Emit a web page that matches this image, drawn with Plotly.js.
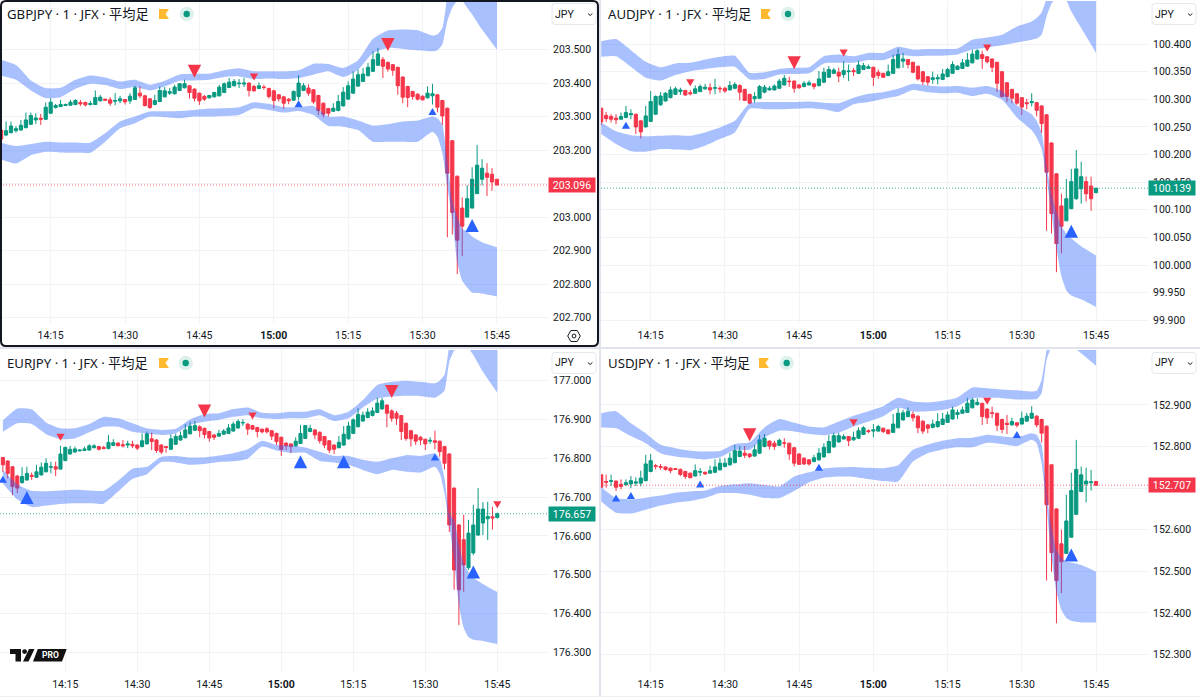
<!DOCTYPE html>
<html><head><meta charset="utf-8">
<script src="https://cdn.plot.ly/plotly-3.0.1.min.js"></script>
<style>html,body{margin:0;padding:0;background:#fff}#c{width:1200px;height:697px}</style></head>
<body><div id="c"></div>
<script>
// ---- time axis (minutes since midnight) ----
const tickMinutes=[855,870,885,900,915,930,945];
const tickLabels=['14:15','14:30','14:45','<b>15:00</b>','15:15','15:30','15:45'];
const bandMinutes=[845,848,851,854,857,860,863,866,869,872,875,878,881,884,887,890,893,896,899,902,905,908,911,914,917,920,923,926,929,932,933,934,935,936,937,938,939,940,942,945];
const eurBandMinutes=[842,845,848,851,854,857,860,863,866,869,872,875,878,881,884,887,890,893,896,899,902,905,908,911,914,917,920,923,926,929,932,933,934,935,936,937,938,939,940,942,945];

// ---- GBPJPY ----
const gbpOpen=[203.26,203.245,203.252,203.258,203.26,203.267,203.277,203.29,203.295,203.292,203.31,203.327,203.33,203.333,203.334,203.336,203.342,203.342,203.336,203.336,203.347,203.352,203.35,203.346,203.347,203.351,203.347,203.351,203.37,203.362,203.353,203.336,203.345,203.359,203.37,203.368,203.378,203.386,203.392,203.382,203.37,203.36,203.356,203.359,203.362,203.372,203.387,203.392,203.398,203.397,203.4,203.39,203.384,203.388,203.384,203.377,203.365,203.359,203.352,203.349,203.36,203.378,203.385,203.38,203.363,203.34,203.324,203.316,203.318,203.332,203.352,203.37,203.391,203.405,203.422,203.435,203.453,203.47,203.462,203.455,203.447,203.418,203.39,203.375,203.367,203.361,203.356,203.362,203.365,203.348,203.325,203.228,203.122,203.027,203.0,203.027,203.07,203.113,203.131,203.128,203.113];
const gbpHigh=[203.26,203.285,203.285,203.272,203.29,203.312,203.312,203.31,203.308,203.342,203.355,203.338,203.35,203.339,203.35,203.352,203.35,203.345,203.347,203.378,203.365,203.353,203.358,203.37,203.362,203.352,203.37,203.392,203.39,203.365,203.355,203.365,203.39,203.388,203.385,203.395,203.4,203.41,203.394,203.384,203.372,203.365,203.365,203.374,203.395,203.402,203.415,203.412,203.412,203.415,203.402,203.395,203.402,203.395,203.386,203.38,203.367,203.36,203.355,203.378,203.424,203.4,203.396,203.382,203.365,203.342,203.326,203.34,203.365,203.388,203.405,203.435,203.44,203.445,203.46,203.495,203.505,203.478,203.464,203.457,203.449,203.42,203.392,203.377,203.369,203.363,203.39,203.398,203.367,203.35,203.327,203.23,203.124,203.059,203.095,203.149,203.215,203.173,203.161,203.146,203.114];
const gbpLow=[203.233,203.242,203.25,203.252,203.258,203.265,203.275,203.278,203.275,203.29,203.308,203.324,203.328,203.332,203.332,203.334,203.332,203.33,203.333,203.335,203.346,203.348,203.332,203.334,203.34,203.336,203.338,203.35,203.355,203.33,203.323,203.334,203.343,203.357,203.365,203.366,203.376,203.384,203.354,203.345,203.335,203.347,203.354,203.357,203.36,203.37,203.385,203.39,203.385,203.388,203.36,203.374,203.382,203.38,203.354,203.325,203.345,203.323,203.337,203.347,203.35,203.376,203.362,203.338,203.305,203.298,203.3,203.314,203.316,203.33,203.35,203.368,203.389,203.403,203.42,203.433,203.451,203.415,203.434,203.422,203.365,203.34,203.328,203.35,203.348,203.348,203.354,203.336,203.313,203.275,202.94,202.948,202.83,202.884,202.999,203.026,203.069,203.095,203.063,203.078,203.095];
const gbpClose=[203.233,203.258,203.272,203.264,203.274,203.29,203.303,203.296,203.292,203.328,203.343,203.333,203.336,203.336,203.343,203.348,203.338,203.335,203.339,203.357,203.358,203.349,203.34,203.348,203.353,203.344,203.361,203.386,203.362,203.333,203.327,203.348,203.378,203.377,203.374,203.388,203.398,203.398,203.372,203.355,203.347,203.352,203.363,203.372,203.388,203.398,203.403,203.405,203.4,203.4,203.378,203.377,203.392,203.387,203.36,203.348,203.353,203.34,203.347,203.375,203.4,203.392,203.37,203.344,203.318,203.307,203.31,203.325,203.345,203.373,203.392,203.412,203.425,203.427,203.447,203.47,203.487,203.45,203.442,203.438,203.392,203.358,203.357,203.36,203.352,203.35,203.37,203.368,203.328,203.302,203.131,203.014,202.931,202.973,203.055,203.113,203.155,203.146,203.119,203.105,203.096];
const gbpUpperTop=[203.47,203.454,203.408,203.385,203.386,203.41,203.423,203.417,203.405,203.41,203.395,203.407,203.426,203.428,203.428,203.438,203.444,203.435,203.435,203.435,203.438,203.458,203.457,203.445,203.468,203.532,203.557,203.56,203.558,203.542,203.545,203.565,203.66,203.75,203.83,203.9,203.95,203.98,204.0,204.0];
const gbpUpperBottom=[203.422,203.41,203.378,203.355,203.358,203.383,203.398,203.394,203.382,203.388,203.378,203.39,203.407,203.408,203.41,203.418,203.42,203.412,203.414,203.412,203.415,203.425,203.435,203.418,203.44,203.49,203.505,203.502,203.498,203.495,203.498,203.515,203.585,203.625,203.645,203.645,203.625,203.605,203.56,203.5];
const gbpLowerTop=[203.222,203.212,203.218,203.225,203.223,203.223,203.222,203.25,203.285,203.3,203.315,203.316,203.317,203.32,203.324,203.325,203.328,203.343,203.338,203.328,203.328,203.332,203.3,203.3,203.288,203.273,203.277,203.285,203.288,203.3,203.295,203.275,203.17,203.05,203.0,202.965,202.957,202.942,202.925,202.91];
const gbpLowerBottom=[203.172,203.16,203.185,203.195,203.193,203.192,203.192,203.225,203.265,203.28,203.3,203.298,203.295,203.3,203.3,203.302,203.305,203.325,203.32,203.312,203.317,203.305,203.272,203.27,203.26,203.225,203.225,203.225,203.225,203.255,203.24,203.19,203.09,202.995,202.865,202.81,202.79,202.775,202.772,202.763];
const gbpDownMinutes=[884,896,923], gbpDownPrices=[203.435,203.418,203.515], gbpDownBig=[1,0,1];
const gbpUpMinutes=[905,932,940], gbpUpPrices=[203.338,203.315,202.975], gbpUpBig=[0,0,1];
const gbpTicks=[202.7,202.8,202.9,203.0,203.1,203.2,203.3,203.4,203.5];
const gbpHiddenTick=203.1;
const gbpLast=203.096;

// ---- AUDJPY ----
const audOpen=[100.284,100.271,100.269,100.266,100.264,100.267,100.272,100.273,100.261,100.25,100.26,100.273,100.29,100.297,100.303,100.309,100.314,100.316,100.312,100.311,100.314,100.319,100.321,100.32,100.32,100.32,100.317,100.32,100.325,100.318,100.309,100.301,100.302,100.313,100.317,100.317,100.32,100.326,100.333,100.333,100.326,100.323,100.326,100.328,100.325,100.331,100.34,100.347,100.349,100.345,100.35,100.352,100.347,100.354,100.356,100.358,100.349,100.347,100.343,100.347,100.357,100.369,100.372,100.367,100.36,100.35,100.341,100.336,100.337,100.336,100.341,100.347,100.354,100.356,100.36,100.366,100.373,100.381,100.377,100.373,100.367,100.35,100.33,100.318,100.31,100.303,100.294,100.294,100.294,100.288,100.272,100.221,100.165,100.107,100.08,100.102,100.12,100.138,100.151,100.143,100.131];
const audHigh=[100.284,100.277,100.273,100.273,100.276,100.288,100.282,100.274,100.262,100.288,100.315,100.307,100.313,100.313,100.323,100.323,100.321,100.317,100.317,100.325,100.327,100.328,100.329,100.337,100.324,100.323,100.333,100.331,100.327,100.319,100.31,100.313,100.326,100.326,100.324,100.327,100.337,100.344,100.341,100.334,100.328,100.333,100.334,100.329,100.351,100.357,100.36,100.357,100.357,100.369,100.363,100.357,100.37,100.366,100.363,100.359,100.354,100.348,100.363,100.381,100.392,100.384,100.373,100.368,100.361,100.351,100.342,100.35,100.345,100.355,100.357,100.369,100.362,100.373,100.384,100.39,100.391,100.388,100.378,100.374,100.368,100.351,100.331,100.319,100.311,100.304,100.301,100.311,100.295,100.289,100.273,100.222,100.166,100.129,100.156,100.174,100.208,100.187,100.16,100.16,100.14];
const audLow=[100.253,100.259,100.258,100.255,100.263,100.266,100.264,100.237,100.229,100.249,100.259,100.272,100.288,100.296,100.302,100.308,100.308,100.306,100.307,100.31,100.313,100.317,100.309,100.309,100.312,100.312,100.316,100.318,100.298,100.297,100.292,100.294,100.301,100.311,100.316,100.316,100.319,100.325,100.323,100.312,100.319,100.322,100.325,100.318,100.323,100.329,100.339,100.346,100.331,100.339,100.333,100.342,100.346,100.353,100.355,100.324,100.337,100.339,100.342,100.346,100.356,100.357,100.356,100.347,100.334,100.326,100.325,100.328,100.327,100.335,100.34,100.346,100.353,100.355,100.359,100.365,100.372,100.355,100.365,100.349,100.313,100.303,100.295,100.293,100.29,100.272,100.282,100.287,100.269,100.239,100.062,100.057,99.987,100.021,100.08,100.101,100.118,100.111,100.115,100.098,100.13];
const audClose=[100.259,100.265,100.264,100.263,100.269,100.276,100.274,100.25,100.241,100.27,100.296,100.305,100.306,100.311,100.317,100.319,100.317,100.308,100.31,100.319,100.323,100.322,100.317,100.321,100.319,100.315,100.325,100.327,100.313,100.298,100.293,100.305,100.323,100.322,100.32,100.324,100.333,100.338,100.332,100.32,100.321,100.329,100.33,100.323,100.337,100.349,100.354,100.353,100.342,100.352,100.351,100.35,100.362,100.361,100.359,100.34,100.343,100.34,100.35,100.372,100.381,100.373,100.363,100.349,100.337,100.332,100.331,100.339,100.339,100.346,100.354,100.363,100.36,100.366,100.371,100.382,100.388,100.374,100.368,100.358,100.329,100.305,100.305,100.302,100.293,100.286,100.292,100.296,100.28,100.256,100.168,100.093,100.039,100.07,100.12,100.151,100.174,100.16,100.129,100.12,100.139];
const audUpperTop=[100.405,100.409,100.389,100.368,100.358,100.365,100.366,100.372,100.377,100.379,100.348,100.349,100.355,100.357,100.358,100.378,100.381,100.378,100.384,100.384,100.395,100.39,100.391,100.391,100.392,100.408,100.412,100.417,100.432,100.441,100.447,100.457,100.483,100.522,100.558,100.6,100.636,100.66,100.678,100.684];
const audUpperBottom=[100.377,100.378,100.359,100.339,100.334,100.344,100.351,100.355,100.358,100.359,100.336,100.337,100.345,100.346,100.347,100.365,100.366,100.366,100.371,100.371,100.38,100.378,100.379,100.379,100.381,100.39,100.394,100.398,100.403,100.408,100.41,100.417,100.45,100.473,100.485,100.489,100.479,100.459,100.429,100.384];
const audLowerTop=[100.258,100.242,100.235,100.233,100.234,100.235,100.234,100.24,100.249,100.261,100.293,100.295,100.295,100.295,100.296,100.294,100.293,100.303,100.31,100.313,100.319,100.328,100.325,100.323,100.324,100.321,100.324,100.315,100.289,100.273,100.261,100.24,100.18,100.129,100.097,100.07,100.057,100.048,100.034,100.017];
const audLowerBottom=[100.237,100.219,100.206,100.205,100.21,100.209,100.208,100.216,100.228,100.24,100.283,100.282,100.282,100.283,100.284,100.282,100.277,100.291,100.295,100.301,100.306,100.317,100.313,100.311,100.312,100.306,100.31,100.299,100.267,100.244,100.231,100.21,100.156,100.093,100.03,99.98,99.954,99.945,99.938,99.924];
const audDownMinutes=[863,884,894,923], audDownPrices=[100.33,100.366,100.384,100.393], audDownBig=[0,1,0,0];
const audUpMinutes=[850,940], audUpPrices=[100.253,100.061], audUpBig=[0,1];
const audTicks=[99.9,99.95,100.0,100.05,100.1,100.15,100.2,100.25,100.3,100.35,100.4];
const audHiddenTick=null;
const audLast=100.139;

// ---- EURJPY ----
const eurOpen=[176.802,176.793,176.778,176.754,176.737,176.744,176.756,176.751,176.757,176.765,176.777,176.778,176.772,176.794,176.811,176.816,176.819,176.82,176.821,176.827,176.83,176.828,176.825,176.833,176.839,176.835,176.834,176.836,176.834,176.83,176.837,176.85,176.847,176.834,176.83,176.823,176.836,176.847,176.853,176.863,176.872,176.881,176.877,176.869,176.86,176.857,176.862,176.864,176.87,176.878,176.891,176.888,176.884,176.879,176.875,176.876,176.871,176.864,176.854,176.839,176.837,176.832,176.838,176.851,176.869,176.873,176.867,176.856,176.845,176.834,176.827,176.834,176.85,176.864,176.881,176.896,176.905,176.91,176.918,176.927,176.937,176.922,176.916,176.91,176.89,176.871,176.86,176.854,176.849,176.844,176.845,176.844,176.83,176.811,176.723,176.628,176.59,176.518,176.556,176.602,176.633,176.644,176.649,176.647];
const eurHigh=[176.803,176.794,176.779,176.757,176.777,176.778,176.763,176.783,176.789,176.8,176.791,176.791,176.832,176.83,176.832,176.83,176.823,176.83,176.836,176.836,176.832,176.832,176.86,176.849,176.841,176.847,176.845,176.845,176.836,176.864,176.869,176.866,176.849,176.836,176.832,176.862,176.863,176.869,176.888,176.894,176.896,176.885,176.879,176.87,176.862,176.873,176.875,176.888,176.894,176.9,176.9,176.89,176.886,176.881,176.876,176.88,176.873,176.866,176.856,176.841,176.838,176.854,176.886,176.886,176.886,176.875,176.869,176.857,176.847,176.836,176.857,176.883,176.894,176.903,176.929,176.92,176.929,176.931,176.956,176.956,176.939,176.926,176.922,176.911,176.892,176.873,176.862,176.857,176.85,176.854,176.871,176.845,176.832,176.813,176.725,176.63,176.654,176.641,176.68,176.723,176.687,176.688,176.675,176.66];
const eurLow=[176.765,176.748,176.705,176.71,176.735,176.742,176.744,176.749,176.755,176.764,176.761,176.754,176.771,176.792,176.809,176.814,176.818,176.819,176.82,176.826,176.82,176.823,176.823,176.832,176.831,176.828,176.826,176.826,176.821,176.828,176.835,176.821,176.814,176.811,176.814,176.821,176.834,176.845,176.851,176.861,176.87,176.854,176.851,176.843,176.847,176.855,176.86,176.863,176.869,176.876,176.883,176.86,176.873,176.854,176.864,176.864,176.847,176.834,176.806,176.821,176.813,176.83,176.837,176.85,176.867,176.849,176.838,176.826,176.813,176.811,176.826,176.832,176.848,176.863,176.88,176.894,176.903,176.908,176.917,176.925,176.88,176.894,176.886,176.847,176.845,176.83,176.834,176.834,176.821,176.837,176.823,176.804,176.771,176.61,176.461,176.37,176.456,176.512,176.55,176.6,176.602,176.589,176.616,176.645];
const eurClose=[176.783,176.761,176.727,176.723,176.753,176.761,176.753,176.765,176.777,176.787,176.778,176.772,176.811,176.828,176.823,176.824,176.821,176.824,176.832,176.832,176.823,176.825,176.841,176.84,176.832,176.832,176.837,176.832,176.826,176.845,176.863,176.843,176.82,176.816,176.828,176.85,176.856,176.858,176.873,176.883,176.884,176.871,176.861,176.852,176.854,176.864,176.87,176.878,176.888,176.895,176.892,176.875,176.875,176.869,176.868,176.868,176.857,176.843,176.823,176.832,176.83,176.844,176.864,176.884,176.877,176.86,176.845,176.834,176.821,176.823,176.841,176.862,176.883,176.899,176.913,176.911,176.919,176.922,176.942,176.948,176.916,176.903,176.903,176.869,176.851,176.85,176.844,176.847,176.837,176.846,176.841,176.817,176.787,176.628,176.512,176.461,176.525,176.607,176.628,176.669,176.669,176.65,176.646,176.657];
const eurUpperTop=[176.897,176.928,176.926,176.892,176.877,176.877,176.888,176.907,176.903,176.89,176.877,176.873,176.876,176.9,176.914,176.916,176.927,176.931,176.917,176.916,176.92,176.92,176.926,176.911,176.92,176.95,176.989,176.997,177.0,176.997,176.993,177.0,177.015,177.092,177.165,177.225,177.277,177.32,177.345,177.371,177.371];
const eurUpperBottom=[176.868,176.89,176.888,176.862,176.849,176.851,176.867,176.881,176.881,176.868,176.863,176.86,176.864,176.886,176.894,176.899,176.907,176.911,176.903,176.901,176.903,176.903,176.911,176.896,176.903,176.931,176.954,176.959,176.961,176.96,176.956,176.963,176.974,177.049,177.077,177.088,177.092,177.083,177.066,177.023,176.969];
const eurLowerTop=[176.77,176.733,176.716,176.715,176.717,176.719,176.717,176.716,176.742,176.773,176.778,176.804,176.806,176.802,176.802,176.807,176.813,176.823,176.845,176.834,176.833,176.828,176.817,176.806,176.806,176.796,176.791,176.8,176.808,176.806,176.813,176.8,176.748,176.658,176.641,176.577,176.53,176.507,176.492,176.476,176.455];
const eurLowerBottom=[176.735,176.694,176.674,176.678,176.682,176.684,176.684,176.683,176.714,176.747,176.759,176.79,176.789,176.783,176.785,176.79,176.792,176.799,176.83,176.82,176.814,176.814,176.793,176.789,176.783,176.77,176.759,176.77,176.765,176.763,176.778,176.761,176.71,176.628,176.538,176.422,176.363,176.339,176.332,176.329,176.321];
const eurDownMinutes=[854,884,894,923,945], eurDownPrices=[176.854,176.922,176.909,176.972,176.68], eurDownBig=[0,1,0,1,0];
const eurUpMinutes=[842,847,904,913,932,940], eurUpPrices=[176.746,176.699,176.791,176.791,176.803,176.507], eurUpBig=[0,1,1,1,0,1];
const eurTicks=[176.3,176.4,176.5,176.6,176.7,176.8,176.9,177.0];
const eurHiddenTick=null;
const eurLast=176.657;

// ---- USDJPY ----
const usdOpen=[152.732,152.716,152.716,152.717,152.709,152.708,152.71,152.712,152.712,152.718,152.74,152.754,152.752,152.751,152.748,152.747,152.745,152.74,152.736,152.729,152.738,152.738,152.736,152.738,152.744,152.752,152.756,152.761,152.776,152.784,152.782,152.777,152.784,152.8,152.813,152.808,152.803,152.809,152.808,152.797,152.782,152.772,152.768,152.764,152.768,152.775,152.785,152.799,152.811,152.818,152.824,152.816,152.82,152.829,152.838,152.837,152.837,152.844,152.84,152.834,152.845,152.864,152.872,152.877,152.873,152.861,152.852,152.846,152.848,152.853,152.858,152.866,152.877,152.88,152.882,152.893,152.901,152.904,152.89,152.881,152.88,152.865,152.856,152.852,152.857,152.854,152.861,152.868,152.873,152.865,152.849,152.756,152.65,152.566,152.543,152.582,152.637,152.692,152.71,152.713,152.716];
const usdHigh=[152.732,152.732,152.732,152.718,152.721,152.721,152.729,152.726,152.742,152.78,152.782,152.758,152.758,152.752,152.749,152.748,152.747,152.742,152.737,152.757,152.748,152.74,152.754,152.769,152.772,152.772,152.785,152.804,152.801,152.801,152.784,152.804,152.828,152.83,152.815,152.814,152.819,152.82,152.809,152.799,152.784,152.774,152.77,152.78,152.796,152.808,152.828,152.833,152.833,152.83,152.825,152.836,152.846,152.849,152.841,152.854,152.852,152.845,152.841,152.878,152.894,152.888,152.894,152.884,152.875,152.863,152.854,152.865,152.88,152.881,152.884,152.896,152.889,152.896,152.917,152.917,152.916,152.905,152.892,152.896,152.881,152.867,152.876,152.869,152.859,152.884,152.881,152.897,152.875,152.867,152.85,152.757,152.651,152.6,152.684,152.737,152.816,152.752,152.749,152.744,152.717];
const usdLow=[152.7,152.701,152.705,152.693,152.697,152.706,152.7,152.705,152.704,152.716,152.738,152.745,152.744,152.742,152.736,152.744,152.729,152.722,152.724,152.728,152.729,152.732,152.735,152.736,152.742,152.75,152.754,152.76,152.774,152.772,152.772,152.776,152.782,152.798,152.793,152.792,152.801,152.797,152.768,152.752,152.756,152.756,152.754,152.762,152.766,152.773,152.784,152.797,152.809,152.817,152.801,152.814,152.818,152.828,152.832,152.822,152.836,152.832,152.829,152.833,152.844,152.862,152.87,152.86,152.832,152.83,152.832,152.844,152.845,152.852,152.857,152.865,152.866,152.878,152.881,152.892,152.898,152.852,152.854,152.868,152.837,152.832,152.83,152.85,152.846,152.853,152.86,152.866,152.846,152.81,152.478,152.499,152.375,152.448,152.542,152.581,152.636,152.69,152.666,152.694,152.706];
const usdClose=[152.702,152.714,152.718,152.702,152.704,152.713,152.718,152.715,152.724,152.758,152.766,152.752,152.75,152.745,152.742,152.745,152.733,152.728,152.725,152.742,152.74,152.734,152.742,152.751,152.76,152.76,152.772,152.79,152.789,152.779,152.776,152.792,152.816,152.82,152.801,152.8,152.815,152.808,152.782,152.76,152.757,152.758,152.758,152.773,152.784,152.798,152.812,152.826,152.826,152.824,152.814,152.822,152.838,152.845,152.836,152.84,152.848,152.836,152.831,152.854,152.88,152.881,152.885,152.869,152.845,152.837,152.844,152.854,152.86,152.866,152.876,152.888,152.882,152.888,152.904,152.912,152.906,152.872,152.869,152.88,152.851,152.841,152.853,152.86,152.851,152.868,152.873,152.88,152.852,152.832,152.66,152.545,152.478,152.523,152.621,152.694,152.745,152.732,152.717,152.715,152.707];
const usdUpperTop=[152.88,152.885,152.856,152.832,152.804,152.796,152.79,152.788,152.789,152.806,152.81,152.846,152.866,152.857,152.848,152.846,152.86,152.874,152.885,152.897,152.917,152.908,152.906,152.91,152.918,152.942,152.94,152.937,152.935,152.932,152.934,152.96,153.032,153.088,153.136,153.184,153.224,153.248,153.272,153.272];
const usdUpperBottom=[152.846,152.844,152.825,152.808,152.784,152.776,152.772,152.769,152.774,152.792,152.792,152.822,152.838,152.836,152.83,152.827,152.833,152.848,152.86,152.873,152.894,152.884,152.885,152.888,152.897,152.916,152.917,152.916,152.913,152.913,152.914,152.928,153.008,153.04,153.052,153.056,153.056,153.044,153.024,152.994];
const usdLowerTop=[152.702,152.676,152.673,152.677,152.682,152.689,152.692,152.694,152.705,152.709,152.712,152.708,152.704,152.728,152.738,152.747,152.75,152.751,152.749,152.748,152.755,152.792,152.805,152.814,152.82,152.821,152.828,152.824,152.822,152.832,152.828,152.804,152.688,152.607,152.551,152.532,152.523,152.521,152.515,152.499];
const usdLowerBottom=[152.668,152.641,152.639,152.648,152.658,152.665,152.669,152.676,152.688,152.688,152.684,152.676,152.676,152.693,152.714,152.725,152.728,152.727,152.722,152.717,152.716,152.764,152.784,152.793,152.798,152.798,152.809,152.806,152.801,152.816,152.808,152.76,152.656,152.535,152.451,152.407,152.388,152.381,152.377,152.377];
const usdDownMinutes=[875,896,923], usdDownPrices=[152.828,152.857,152.909], usdDownBig=[1,0,0];
const usdUpMinutes=[848,851,865,889,929,940], usdUpPrices=[152.676,152.682,152.71,152.75,152.829,152.539], usdUpBig=[0,0,0,0,0,1];
const usdTicks=[152.3,152.4,152.5,152.6,152.7,152.8,152.9];
const usdHiddenTick=152.7;
const usdLast=152.707;

// ---- styles ----
const RED='#f5364a',GREEN='#089981',BLUE='#2962ff',BAND='rgba(41,98,255,0.4)',INK='#131722',GRID='#f2f3f5',W=1200,H=697;
const FONT='Roboto, sans-serif';
const fx=x=>x/W, fy=y=>1-y/H;

const panels=[
 {id:'',title:'GBPJPY · 1 · JFX · 平均足',O:gbpOpen,Hi:gbpHigh,L:gbpLow,C:gbpClose,first:845,bandX:bandMinutes,ut:gbpUpperTop,ub:gbpUpperBottom,lt:gbpLowerTop,lb:gbpLowerBottom,dm:gbpDownMinutes,dp:gbpDownPrices,db:gbpDownBig,um:gbpUpMinutes,up:gbpUpPrices,ub2:gbpUpBig,ticks:gbpTicks,hide:gbpHiddenTick,last:gbpLast,lastColor:RED,
  px:[0,548],py:[1,323],xr:[844.78,955.3],yr:[202.684,203.645],ppm:4.96,ppp:335,flagX:159,dotX:186.7,titleX:7,titleY:14,offX:0},
 {id:'2',title:'AUDJPY · 1 · JFX · 平均足',O:audOpen,Hi:audHigh,L:audLow,C:audClose,first:845,bandX:bandMinutes,ut:audUpperTop,ub:audUpperBottom,lt:audLowerTop,lb:audLowerBottom,dm:audDownMinutes,dp:audDownPrices,db:audDownBig,um:audUpMinutes,up:audUpPrices,ub2:audUpBig,ticks:audTicks,hide:audHiddenTick,last:audLast,lastColor:GREEN,
  px:[601,1148],py:[1,323],xr:[844.96,955.5],yr:[99.895,100.478],ppm:4.95,ppp:553,flagX:761,dotX:788,titleX:608,titleY:14,offX:600},
 {id:'3',title:'EURJPY · 1 · JFX · 平均足',O:eurOpen,Hi:eurHigh,L:eurLow,C:eurClose,first:842,bandX:eurBandMinutes,ut:eurUpperTop,ub:eurUpperBottom,lt:eurLowerTop,lb:eurLowerBottom,dm:eurDownMinutes,dp:eurDownPrices,db:eurDownBig,um:eurUpMinutes,up:eurUpPrices,ub2:eurUpBig,ticks:eurTicks,hide:eurHiddenTick,last:eurLast,lastColor:GREEN,
  px:[0,548],py:[350,672],xr:[841.4,955.56],yr:[176.249,177.079],ppm:4.8,ppp:388,flagX:159,dotX:185.7,titleX:7,titleY:363,offX:0},
 {id:'4',title:'USDJPY · 1 · JFX · 平均足',O:usdOpen,Hi:usdHigh,L:usdLow,C:usdClose,first:845,bandX:bandMinutes,ut:usdUpperTop,ub:usdUpperBottom,lt:usdLowerTop,lb:usdLowerBottom,dm:usdDownMinutes,dp:usdDownPrices,db:usdDownBig,um:usdUpMinutes,up:usdUpPrices,ub2:usdUpBig,ticks:usdTicks,hide:usdHiddenTick,last:usdLast,lastColor:RED,
  px:[601,1148],py:[350,672],xr:[844.96,955.5],yr:[152.258,153.032],ppm:4.95,ppp:416,flagX:759,dotX:786.7,titleX:608,titleY:363,offX:600}
];

function triangles(mins,prices,big,dir,ppm,ppp){
  const xs=[],ys=[];
  mins.forEach((m,i)=>{
    const w=(big[i]?13.4:8.2)/2/ppm, h=(big[i]?13:7)/2/ppp, p=prices[i];
    if(dir>0){xs.push(m-w,m+w,m,null);ys.push(p-h,p-h,p+h,null);}
    else{xs.push(m-w,m+w,m,null);ys.push(p+h,p+h,p-h,null);}
  });
  return {x:xs,y:ys};
}

const traces=[],shapes=[],annotations=[],layout={
  width:W,height:H,margin:{l:0,r:0,t:0,b:0},paper_bgcolor:'#fff',plot_bgcolor:'#fff',showlegend:false,hovermode:false,boxgap:0.08,font:{family:FONT,color:INK,size:10}
};

function poly(pts){return 'M'+pts.map(p=>fx(p[0])+','+fy(p[1])).join('L')+'Z';}
function circle(cx,cy,r,fill,line){shapes.push({type:'circle',xref:'paper',yref:'paper',x0:fx(cx-r),x1:fx(cx+r),y0:fy(cy+r),y1:fy(cy-r),fillcolor:fill,line:line||{width:0}});}
function pathShape(pts,fill,line){shapes.push({type:'path',xref:'paper',yref:'paper',path:poly(pts),fillcolor:fill,line:line||{width:0}});}
function roundRect(x0,y0,x1,y1,r,fill,line){
  shapes.push({type:'path',xref:'paper',yref:'paper',fillcolor:fill,line:line,
   path:'M'+fx(x0+r)+','+fy(y0)+'L'+fx(x1-r)+','+fy(y0)+'Q'+fx(x1)+','+fy(y0)+' '+fx(x1)+','+fy(y0+r)+'L'+fx(x1)+','+fy(y1-r)+'Q'+fx(x1)+','+fy(y1)+' '+fx(x1-r)+','+fy(y1)+'L'+fx(x0+r)+','+fy(y1)+'Q'+fx(x0)+','+fy(y1)+' '+fx(x0)+','+fy(y1-r)+'L'+fx(x0)+','+fy(y0+r)+'Q'+fx(x0)+','+fy(y0)+' '+fx(x0+r)+','+fy(y0)+'Z'});
}

panels.forEach(p=>{
  const xa='x'+p.id, ya='y'+p.id;
  traces.push({type:'candlestick',xaxis:xa,yaxis:ya,x:p.O.map((_,i)=>p.first+i),open:p.O,high:p.Hi,low:p.L,close:p.C,
    increasing:{line:{color:GREEN,width:1},fillcolor:GREEN},decreasing:{line:{color:RED,width:1},fillcolor:RED},whiskerwidth:0,hoverinfo:'skip'});
  const smooth={width:0,shape:'spline',smoothing:0.5};
  // each band: its bottom edge, then its top edge filled down to it
  [[p.ub,p.ut],[p.lb,p.lt]].forEach(pair=>{
    traces.push({type:'scatter',mode:'lines',xaxis:xa,yaxis:ya,x:p.bandX,y:pair[0],line:smooth,hoverinfo:'skip'});
    traces.push({type:'scatter',mode:'lines',xaxis:xa,yaxis:ya,x:p.bandX,y:pair[1],fill:'tonexty',fillcolor:BAND,line:smooth,hoverinfo:'skip'});
  });
  const d=triangles(p.dm,p.dp,p.db,-1,p.ppm,p.ppp), u=triangles(p.um,p.up,p.ub2,1,p.ppm,p.ppp);
  traces.push({type:'scatter',mode:'lines',xaxis:xa,yaxis:ya,x:d.x,y:d.y,fill:'toself',fillcolor:RED,line:{width:0},hoverinfo:'skip'});
  traces.push({type:'scatter',mode:'lines',xaxis:xa,yaxis:ya,x:u.x,y:u.y,fill:'toself',fillcolor:BLUE,line:{width:0},hoverinfo:'skip'});

  layout['xaxis'+p.id]={type:'linear',anchor:ya,domain:[fx(p.px[0]),fx(p.px[1])],range:p.xr,tickvals:tickMinutes,ticktext:tickLabels,ticks:'',
    showgrid:true,gridcolor:GRID,gridwidth:1,zeroline:false,showline:false,rangeslider:{visible:false},tickfont:{family:FONT,size:10.5,color:INK},ticklabelstandoff:4,automargin:false};
  layout['yaxis'+p.id]={type:'linear',anchor:xa,side:'right',domain:[fy(p.py[1]),fy(p.py[0])],range:p.yr,tickvals:p.ticks,ticktext:p.ticks.map(t=>t===p.hide?'':t.toFixed(3)),ticks:'',
    showgrid:true,gridcolor:GRID,gridwidth:1,zeroline:false,showline:false,tickfont:{family:FONT,size:10.5,color:INK},ticklabelstandoff:4,automargin:false};

  // last price line and tag
  shapes.push({type:'line',xref:xa+' domain',yref:ya,x0:0,x1:1,y0:p.last,y1:p.last,opacity:0.75,line:{color:p.lastColor,width:1,dash:'1px,2px'}});
  annotations.push({xref:'paper',yref:ya,xanchor:'center',yanchor:'middle',x:fx(p.offX+572),y:p.last,text:p.last.toFixed(3),showarrow:false,bgcolor:p.lastColor,width:46,height:14,borderpad:0,font:{family:FONT,size:10.5,color:'#fff'}});

  // title and status icons
  annotations.push({xref:'paper',yref:'paper',xanchor:'left',yanchor:'middle',x:fx(p.titleX-2),y:fy(p.titleY),text:p.title,showarrow:false,font:{family:'"Noto Sans","Noto Sans CJK JP",sans-serif',size:13.2,color:INK}});
  const fy0=p.titleY-5;
  pathShape([[p.flagX,fy0],[p.flagX+10,fy0],[p.flagX+6.5,fy0+5],[p.flagX+10,fy0+10],[p.flagX,fy0+10]],'#ffb92e');
  circle(p.dotX,p.titleY,7.2,'#dcf1ec');
  circle(p.dotX,p.titleY,3.2,GREEN);

  // currency button
  const bx=p.offX+552, by=p.titleY-10.5;
  roundRect(bx,by,bx+44,by+21,3,'rgba(255,255,255,0)',{color:'#e6e8ee',width:1});
  annotations.push({xref:'paper',yref:'paper',xanchor:'left',yanchor:'middle',x:fx(bx+1),y:fy(by+10.5),text:'JPY',showarrow:false,font:{family:FONT,size:10.5,color:INK}});
  shapes.push({type:'path',xref:'paper',yref:'paper',path:'M'+fx(bx+36)+','+fy(by+10)+'L'+fx(bx+38.2)+','+fy(by+12)+'L'+fx(bx+40.4)+','+fy(by+10),line:{color:INK,width:1}});
});

// panel frame lines
shapes.push({type:'line',xref:'paper',yref:'paper',x0:fx(600),x1:fx(600),y0:0,y1:1,line:{color:'#e0e3eb',width:2}});
shapes.push({type:'line',xref:'paper',yref:'paper',x0:0,x1:1,y0:fy(348),y1:fy(348),line:{color:'#e0e3eb',width:2}});
shapes.push({type:'line',xref:'paper',yref:'paper',x0:0,x1:1,y0:fy(696.5),y1:fy(696.5),line:{color:'#eceef2',width:1}});
// active panel outline
roundRect(1,1,598,346,5,'rgba(255,255,255,0)',{color:'#131722',width:2});
// gear icon
const gx=574,gy=336,gr=6.3;
pathShape([[gx-gr,gy],[gx-gr/2,gy-gr*0.87],[gx+gr/2,gy-gr*0.87],[gx+gr,gy],[gx+gr/2,gy+gr*0.87],[gx-gr/2,gy+gr*0.87]],'rgba(255,255,255,0)',{color:INK,width:1});
circle(gx,gy,1.9,'rgba(255,255,255,0)',{color:INK,width:1});
// TV PRO logo
pathShape([[10,649],[21,649],[21,661.6],[15.5,661.6],[15.5,654],[10,654]],'#111');
circle(24.6,651.6,2.4,'#111');
pathShape([[29,649],[34.5,649],[28.5,661.6],[23,661.6]],'#111');
pathShape([[37.8,649],[66.7,649],[62,661.6],[33,661.6]],'#111');
annotations.push({xref:'paper',yref:'paper',xanchor:'center',yanchor:'middle',x:fx(50),y:fy(655.3),text:'<b>PRO</b>',showarrow:false,font:{family:FONT,size:8.5,color:'#fff'}});

layout.shapes=shapes;layout.annotations=annotations;
Plotly.newPlot('c',traces,layout,{displayModeBar:false,staticPlot:true});
</script></body></html>
